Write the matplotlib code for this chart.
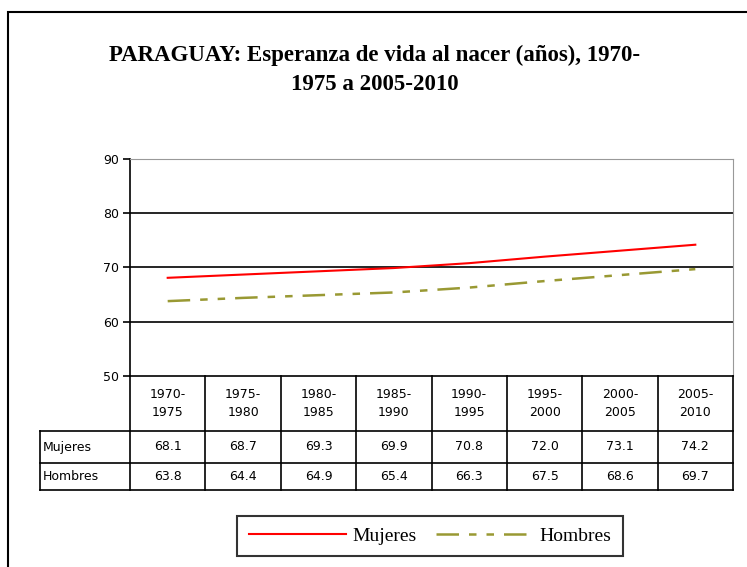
import matplotlib
matplotlib.use('Agg')
import matplotlib.pyplot as plt
from matplotlib.lines import Line2D
from matplotlib.patches import Rectangle

periods = ['1970-\n1975', '1975-\n1980', '1980-\n1985', '1985-\n1990',
           '1990-\n1995', '1995-\n2000', '2000-\n2005', '2005-\n2010']
mujeres = [68.1, 68.7, 69.3, 69.9, 70.8, 72.0, 73.1, 74.2]
hombres = [63.8, 64.4, 64.9, 65.4, 66.3, 67.5, 68.6, 69.7]
row_names = ['Mujeres', 'Hombres']
title = 'PARAGUAY: Esperanza de vida al nacer (años), 1970-\n1975 a 2005-2010'

W, H = 747, 567
fig = plt.figure(figsize=(W / 100, H / 100), dpi=100)


def fx(px):
    return px / W


def fy(py):
    return 1 - py / H


# outer frame (runs off the right/bottom edge like the original)
fig.add_artist(Rectangle((fx(8), fy(600)), fx(800), fy(12) - fy(600),
                         transform=fig.transFigure, fill=False,
                         edgecolor='black', linewidth=1.5))

fig.text(fx(375), fy(70), title, ha='center', va='center',
         fontsize=16.5, fontweight='bold', family='Liberation Serif',
         linespacing=1.55)

# plot area
x0, x1, ytop, ybot = 130, 733, 159, 376
ax = fig.add_axes([fx(x0), fy(ybot), fx(x1) - fx(x0), fy(ytop) - fy(ybot)])
n = len(periods)
xs = list(range(n))
ax.set_xlim(-0.5, n - 0.5)
ax.set_ylim(50, 90)
ax.set_yticks([50, 60, 70, 80, 90])
for y in [60, 70, 80]:
    ax.axhline(y, color='black', linewidth=1.2, zorder=1)
ax.plot(xs, mujeres, color='#ff0000', linewidth=1.5, zorder=3)
ax.plot(xs, hombres, color='#999933', linewidth=1.8, zorder=3,
        dashes=(9, 4, 3, 4, 3, 4))
ax.set_xticks([])
ax.tick_params(axis='y', length=5, width=1.2, labelsize=9, pad=3)
for lab in ax.get_yticklabels():
    lab.set_family('DejaVu Sans')
ax.spines['left'].set_linewidth(1.2)
ax.spines['bottom'].set_linewidth(1.2)
ax.spines['top'].set_color('#999999')
ax.spines['right'].set_color('#999999')

# data table
colw = (x1 - x0) / n
rows_y = [ybot, 431, 463, 490]
label_x = 40


def hline(xa, xb, y):
    fig.add_artist(Line2D([fx(xa), fx(xb)], [fy(y), fy(y)],
                          transform=fig.transFigure, color='black', linewidth=1.2))


def vline(x, ya, yb):
    fig.add_artist(Line2D([fx(x), fx(x)], [fy(ya), fy(yb)],
                          transform=fig.transFigure, color='black', linewidth=1.2))


hline(label_x, x1, rows_y[1])
hline(label_x, x1, rows_y[2])
hline(label_x, x1, rows_y[3])
vline(label_x, rows_y[1], rows_y[3])
for i in range(n + 1):
    vline(x0 + i * colw, rows_y[0], rows_y[3])

for i, p in enumerate(periods):
    cx = x0 + (i + 0.5) * colw
    fig.text(fx(cx), fy((rows_y[0] + rows_y[1]) / 2), p, ha='center', va='center',
             fontsize=9, linespacing=1.5)
    fig.text(fx(cx), fy((rows_y[1] + rows_y[2]) / 2), f'{mujeres[i]:.1f}',
             ha='center', va='center', fontsize=9)
    fig.text(fx(cx), fy((rows_y[2] + rows_y[3]) / 2), f'{hombres[i]:.1f}',
             ha='center', va='center', fontsize=9)
for j, name in enumerate(row_names):
    fig.text(fx(label_x + 3), fy((rows_y[j + 1] + rows_y[j + 2]) / 2), name,
             ha='left', va='center', fontsize=9)

# legend
handles = [Line2D([], [], color='#ff0000', linewidth=1.5),
           Line2D([], [], color='#999933', linewidth=1.8, dashes=(9, 4, 3, 4, 3, 4))]
leg = fig.legend(handles, row_names, loc='center', ncol=2,
                 bbox_to_anchor=(fx(430), fy(536)), frameon=True, fancybox=False,
                 handlelength=5, handletextpad=0.3, columnspacing=1.0,
                 borderpad=0.6, prop={'family': 'Liberation Serif', 'size': 14})
leg.get_frame().set_edgecolor('black')
leg.get_frame().set_linewidth(1.5)

fig.savefig('out.png', dpi=100)
